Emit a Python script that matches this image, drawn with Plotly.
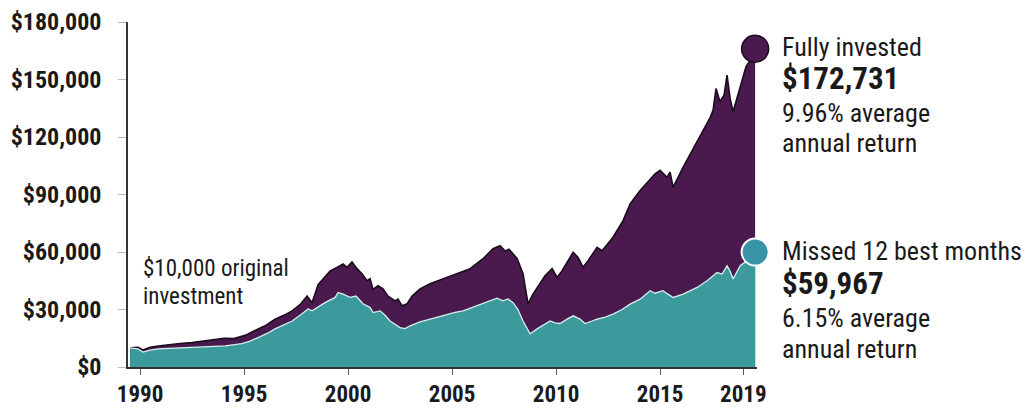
import plotly.graph_objects as go

# ---------------- data ----------------
full_years = [1989.52, 1989.90, 1990.14, 1990.48, 1990.87, 1991.44, 1991.92, 1992.50, 1993.03, 1993.51,
              1994.04, 1994.52, 1995.05, 1995.53, 1996.01, 1996.49, 1997.02, 1997.31, 1997.69, 1998.03,
              1998.27, 1998.56, 1998.89, 1999.13, 1999.47, 1999.76, 1999.95, 2000.19, 2000.43, 2000.67,
              2000.91, 2001.06, 2001.20, 2001.44, 2001.68, 2001.92, 2002.26, 2002.40, 2002.60, 2002.84,
              2003.08, 2003.46, 2003.94, 2004.57, 2005.24, 2005.87, 2006.49, 2006.97, 2007.31, 2007.55,
              2007.74, 2008.13, 2008.41, 2008.65, 2008.89, 2009.09, 2009.47, 2009.81, 2010.05, 2010.29,
              2010.82, 2011.06, 2011.30, 2011.54, 2011.97, 2012.21, 2012.74, 2013.22, 2013.56, 2014.04,
              2014.52, 2014.76, 2015.00, 2015.34, 2015.48, 2015.63, 2016.11, 2016.59, 2017.07, 2017.40,
              2017.55, 2017.69, 2017.88, 2018.08, 2018.22, 2018.37, 2018.51, 2018.85, 2019.13, 2019.33,
              2019.57]
full_values = [10000, 10300, 8900, 10300, 11000, 11800, 12300, 12700, 13500, 14200,
               15000, 14800, 16500, 19000, 21500, 25000, 27500, 29300, 32500, 37000,
               33500, 43000, 47000, 50000, 52000, 53700, 52000, 54800, 51300, 48700,
               45000, 46000, 40500, 42400, 40800, 37000, 34500, 35400, 31900, 33000,
               37000, 40800, 43400, 46000, 48700, 51300, 56500, 61700, 63300, 60500,
               61500, 56500, 48700, 33000, 38000, 41500, 47600, 51300, 46700, 50200,
               59800, 57200, 52000, 55500, 62400, 60700, 67700, 76400, 85100, 92100,
               98200, 100800, 102600, 99000, 101700, 93800, 104300, 113900, 123500, 130000,
               134000, 145300, 138400, 142000, 152300, 140000, 133200, 146500, 156600, 160000,
               163000]

missed_years = [1989.52, 1989.90, 1990.14, 1990.48, 1990.87, 1991.44, 1991.92, 1992.50, 1993.13, 1994.09,
                1994.90, 1995.29, 1995.67, 1996.11, 1996.49, 1996.97, 1997.31, 1997.69, 1998.08, 1998.27,
                1998.56, 1998.89, 1999.38, 1999.52, 1999.76, 2000.10, 2000.38, 2000.72, 2001.06, 2001.20,
                2001.54, 2001.78, 2002.02, 2002.26, 2002.50, 2002.74, 2002.98, 2003.46, 2003.94, 2004.42,
                2004.76, 2005.14, 2005.53, 2005.96, 2006.35, 2006.83, 2007.16, 2007.45, 2007.69, 2007.93,
                2008.17, 2008.41, 2008.75, 2009.09, 2009.47, 2009.71, 2009.95, 2010.19, 2010.53, 2010.82,
                2011.15, 2011.39, 2011.73, 2011.97, 2012.36, 2012.74, 2013.17, 2013.56, 2014.04, 2014.52,
                2014.76, 2015.14, 2015.38, 2015.63, 2016.11, 2016.78, 2017.26, 2017.74, 2017.98, 2018.22,
                2018.37, 2018.51, 2018.85, 2019.18, 2019.57]
missed_values = [10000, 9500, 7800, 8800, 9500, 9800, 10000, 10300, 10700, 11000,
                 12200, 13500, 15300, 17500, 19900, 22500, 24000, 27000, 30300, 29300,
                 31500, 33600, 36300, 38900, 38000, 36300, 37000, 33000, 31000, 28400,
                 29300, 27000, 24000, 22500, 20600, 20000, 21500, 23500, 25000, 26500,
                 27500, 28500, 29300, 31000, 32800, 34500, 35900, 34500, 35500, 33600,
                 30000, 24000, 17300, 19900, 22300, 24000, 23000, 22700, 25000, 26700,
                 25000, 22700, 24000, 25000, 26000, 27600, 30000, 32800, 35400, 39800,
                 38500, 39800, 38000, 36300, 38000, 41500, 45000, 49300, 48500, 52800,
                 50000, 45900, 52800, 55500, 56500]

end_year = [2019.57]
full_marker_value = [166000]
missed_marker_value = [59967]

x_tick_vals = [1990, 1995, 2000, 2005, 2010, 2015, 2019]
x_tick_text = ["1990", "1995", "2000", "2005", "2010", "2015", "2019"]
y_tick_vals = [0, 30000, 60000, 90000, 120000, 150000, 180000]
y_tick_text = ["$0", "$30,000", "$60,000", "$90,000", "$120,000", "$150,000", "$180,000"]

full_label = ["Fully invested", "$172,731", "9.96% average", "annual return"]
missed_label = ["Missed 12 best months", "$59,967", "6.15% average", "annual return"]
origin_label = ["$10,000 original", "investment"]

# ---------------- styles ----------------
FONT = "Liberation Sans Narrow, Arial Narrow, Roboto Condensed, Liberation Sans, sans-serif"
PURPLE = "#4a1a4f"
PURPLE_EDGE = "#1c0a1d"
TEAL = "#3c9a9c"
TEAL_EDGE = "#d6eeec"
TEAL_DOT = "#3894a6"
TXT = "#1a1a1a"

fig = go.Figure()
fig.add_trace(go.Scatter(x=full_years, y=full_values, mode="lines", fill="tozeroy",
                         fillcolor=PURPLE, line=dict(color=PURPLE_EDGE, width=1.6),
                         hoverinfo="skip", showlegend=False))
fig.add_trace(go.Scatter(x=missed_years, y=missed_values, mode="lines", fill="tozeroy",
                         fillcolor=TEAL, line=dict(color=TEAL_EDGE, width=1.3),
                         hoverinfo="skip", showlegend=False))
fig.add_trace(go.Scatter(x=end_year, y=full_marker_value, mode="markers", cliponaxis=False,
                         marker=dict(size=27, color=PURPLE, line=dict(color=PURPLE_EDGE, width=1.5)),
                         hoverinfo="skip", showlegend=False))
fig.add_trace(go.Scatter(x=end_year, y=missed_marker_value, mode="markers", cliponaxis=False,
                         marker=dict(size=27, color=TEAL_DOT, line=dict(color="white", width=2)),
                         hoverinfo="skip", showlegend=False))


def px_to_val(py):
    return (366 - py) / 344 * 180000


def add_block(lines, ys):
    for i, (t, yv) in enumerate(zip(lines, ys)):
        bold = (i == 1)
        fig.add_annotation(xref="paper", yref="y", x=1.0366, y=yv, text=t, showarrow=False,
                           xanchor="left", yanchor="middle",
                           font=dict(family=FONT, size=31 if bold else 26, color=TXT,
                                     weight="bold" if bold else "normal"))


add_block(full_label, [px_to_val(p) for p in (47, 78, 113, 143)])
add_block(missed_label, [px_to_val(p) for p in (250, 283, 317, 348)])

for t, p in zip(origin_label, (268, 296)):
    fig.add_annotation(xref="x", yref="y", x=1990.05, y=px_to_val(p), text=t, showarrow=False,
                       xanchor="left", yanchor="middle",
                       font=dict(family=FONT, size=23, color=TXT))

fig.update_layout(
    width=1029, height=408,
    margin=dict(l=128, r=272, t=22, b=41, autoexpand=False),
    paper_bgcolor="white", plot_bgcolor="white",
    showlegend=False,
    xaxis=dict(range=[1989.42, 2019.66], tickvals=x_tick_vals, ticktext=x_tick_text,
               automargin=False,
               showgrid=False, zeroline=False, showline=True, linecolor="#333333", linewidth=1.5,
               ticks="outside", ticklen=6, tickcolor="#555555", tickwidth=1,
               ticklabelstandoff=0,
               tickfont=dict(family=FONT, size=23, color=TXT, weight="bold")),
    yaxis=dict(range=[0, 180000], tickvals=y_tick_vals, ticktext=y_tick_text,
               automargin=False,
               showgrid=False, zeroline=False, showline=True, linecolor="#333333", linewidth=1.5,
               ticks="outside", ticklen=8, tickcolor="#bbbbbb", tickwidth=1,
               ticklabelstandoff=12,
               tickfont=dict(family=FONT, size=24, color=TXT, weight="bold")),
)

fig.write_html("out.html", config={"displayModeBar": False},
               post_script="document.body.style.margin='0';")
